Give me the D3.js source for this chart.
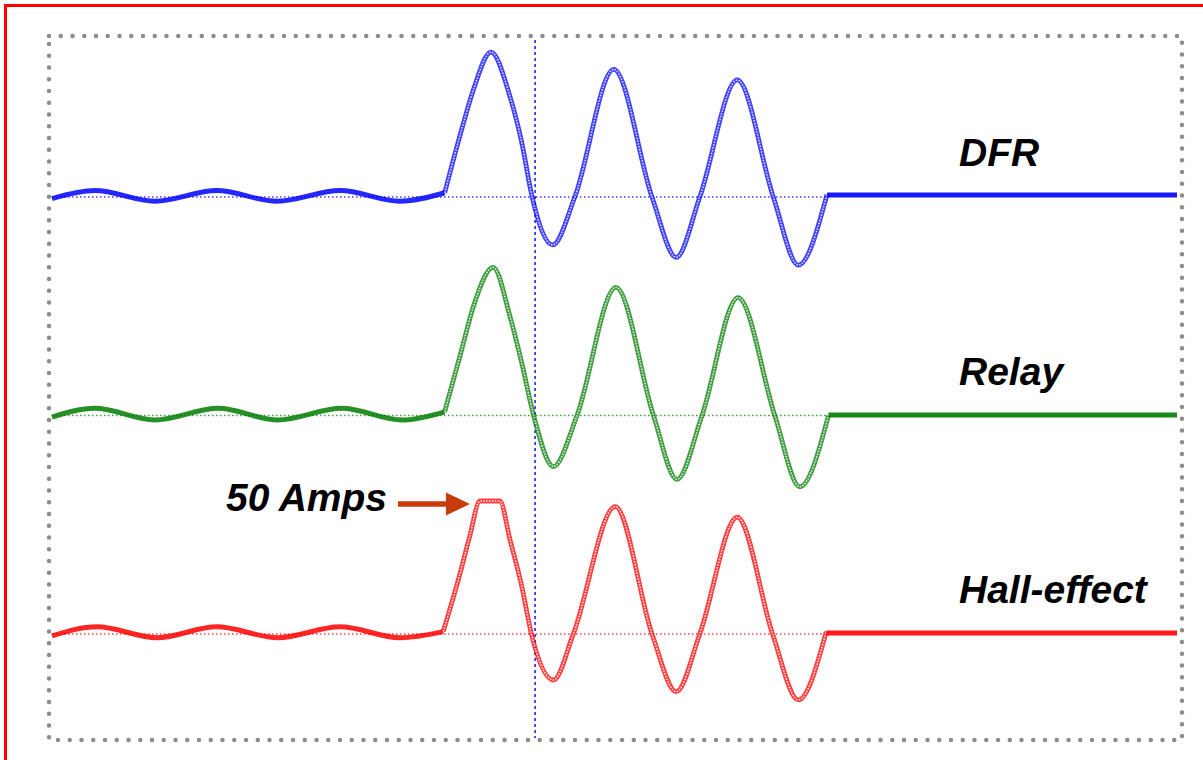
<!DOCTYPE html>
<html><head><meta charset="utf-8">
<script src="https://cdn.jsdelivr.net/npm/d3@7"></script>
<style>html,body{margin:0;padding:0;background:#fff;overflow:hidden} svg{display:block}</style>
</head><body><svg id="c" width="1203" height="760"></svg>
<script>
// ---- data (time in ms, current in A) ----
const channels = ["DFR", "Relay", "Hall-effect"];
const channelColors = ["#0000ff", "#007c00", "#ff0000"];
const timeDomain = [0, 153];
const markerTimes = [65.7];
const clipLevel = 50;
const clipLabel = "50 Amps";

const preDFR = [[0,-0.6],[5.85,2.4],[14.0,-1.6],[22.4,2.4],[30.6,-1.6],[39.2,2.4],[47.3,-1.6],[53.4,1.6]];
const faultDFR = [[53.4,1.5],[55.7,25.2],[57.3,40.2],[59.7,54.5],[62.3,37.6],[63.9,20.3],[65.3,0],[68.1,-18.0],[71.1,0],[76.4,48.0],[81.6,0],[84.9,-22.7],[88.1,0],[93.2,44.0],[98.1,0],[101.5,-25.6],[105.4,0.9]];
const postDFR = [[105.4,0.75],[153,0.75]];

const preRelay = [[0,-0.6],[5.85,2.7],[14.0,-1.7],[22.6,2.7],[30.7,-1.7],[39.4,2.7],[47.6,-1.7],[53.4,1.4]];
const faultRelay = [[53.4,1.4],[55.7,24.6],[57.3,40.9],[60.0,55.7],[62.3,37.1],[63.9,19.6],[65.5,0],[68.2,-19.2],[71.4,0],[76.7,48.2],[81.8,0],[85.0,-24.0],[88.4,0],[93.3,44.3],[98.3,0],[101.7,-26.8],[105.6,0]];
const postRelay = [[105.6,0.2],[153,0.2]];

const preHall = [[0,-0.7],[6.1,2.7],[14.3,-1.4],[22.4,2.7],[30.7,-1.4],[39.2,2.7],[47.3,-1.4],[53.2,0.9]];
const faultHall = [[53.2,0.9],[55.5,22.8],[56.8,36.6],[58.2,50],[60.9,50],[62.3,35.3],[63.9,17.8],[65.2,0],[68.2,-17.3],[70.9,0],[76.6,47.9],[81.6,0],[84.9,-21.7],[88.1,0],[93.2,43.9],[98.0,0],[101.5,-24.8],[105.3,0.86]];
const postHall = [[105.3,0.4],[153,0.4]];

const series = [
  {name: "DFR", pre: preDFR, fault: faultDFR, post: postDFR},
  {name: "Relay", pre: preRelay, fault: faultRelay, post: postRelay},
  {name: "Hall-effect", pre: preHall, fault: faultHall, post: postHall}
];

// ---- drawing ----
const svg = d3.select("#c");
const W = 1203, H = 760;
const x = d3.scaleLinear().domain(timeDomain).range([52, 1177]);
const chan = d3.scalePoint().domain(channels).range([197, 634]);
const amp = d3.scaleLinear().domain([0, 50]).range([0, -133]);
const color = d3.scaleOrdinal().domain(channels).range(channelColors);

// outer red border (left + top)
svg.append("line").attr("x1",5.5).attr("y1",4).attr("x2",5.5).attr("y2",H)
  .attr("stroke","#ff0000").attr("stroke-width",3);
svg.append("line").attr("x1",4).attr("y1",5.5).attr("x2",W).attr("y2",5.5)
  .attr("stroke","#ff0000").attr("stroke-width",3);

// dotted grey frame
svg.append("rect").attr("x",49).attr("y",36).attr("width",1133).attr("height",704)
  .attr("fill","none").attr("stroke","#8c8c8c").attr("stroke-width",4.5)
  .attr("stroke-linecap","round").attr("stroke-dasharray","0 11.75");

// baselines
series.forEach(s => {
  const y0 = chan(s.name);
  svg.append("line").attr("x1", x(timeDomain[0])).attr("x2", x(s.post[0][0]))
    .attr("y1", y0).attr("y2", y0)
    .attr("stroke", color(s.name)).attr("stroke-opacity",0.75).attr("stroke-width",1.4)
    .attr("stroke-dasharray","1.5 2.5");
});

// vertical marker
markerTimes.forEach(t => {
  svg.append("line").attr("x1", x(t)).attr("x2", x(t)).attr("y1", 40).attr("y2", 738)
    .attr("stroke","#3b3bff").attr("stroke-width",1.8).attr("stroke-dasharray","3 3");
});

// traces
series.forEach(s => {
  const y0 = chan(s.name);
  const line = d3.line().x(d => x(d[0])).y(d => y0 + amp(d[1])).curve(d3.curveMonotoneX);
  const c = color(s.name);
  svg.append("path").attr("d", line(s.pre)).attr("fill","none")
    .attr("stroke", c).attr("stroke-width",5).attr("stroke-opacity",0.85).attr("stroke-linejoin","round");
  svg.append("path").attr("d", line(s.fault)).attr("fill","none")
    .attr("stroke", c).attr("stroke-width",4.8).attr("stroke-opacity",0.75).attr("stroke-linejoin","round");
  svg.append("path").attr("d", line(s.fault)).attr("fill","none")
    .attr("stroke", "#fff").attr("stroke-width",1.6).attr("stroke-opacity",0.8)
    .attr("stroke-dasharray","1.6 1.3");
  svg.append("path").attr("d", d3.line().x(d => x(d[0])).y(d => y0 + amp(d[1]))(s.post)).attr("fill","none")
    .attr("stroke", c).attr("stroke-width",5).attr("stroke-opacity",0.9);
});

// labels
const font = "'Liberation Sans', Arial, sans-serif";
series.forEach(s => {
  svg.append("text").attr("x", 959).attr("y", chan(s.name) - 31)
    .attr("font-family", font).attr("font-size", 39).attr("font-weight","bold")
    .attr("font-style","italic").attr("fill","#000").text(s.name);
});

// clip annotation with arrow
const hall = series[2];
const clipStart = hall.fault.find(d => d[1] >= clipLevel)[0];
const tipX = x(clipStart) - 10;
const ay = chan("Hall-effect") + amp(clipLevel) + 3;
const arrowColor = "#c83c0c";
svg.append("line").attr("x1", tipX - 72).attr("x2", tipX - 20).attr("y1", ay).attr("y2", ay)
  .attr("stroke", arrowColor).attr("stroke-width", 5.5);
svg.append("path").attr("d", `M${tipX-24},${ay-11.5} L${tipX},${ay} L${tipX-24},${ay+11.5} Z`)
  .attr("fill", arrowColor);
svg.append("text").attr("x", tipX - 72 - 172).attr("y", ay + 7)
  .attr("font-family", font).attr("font-size", 39).attr("font-weight","bold")
  .attr("font-style","italic").attr("fill","#000").text(clipLabel);
</script></body></html>
